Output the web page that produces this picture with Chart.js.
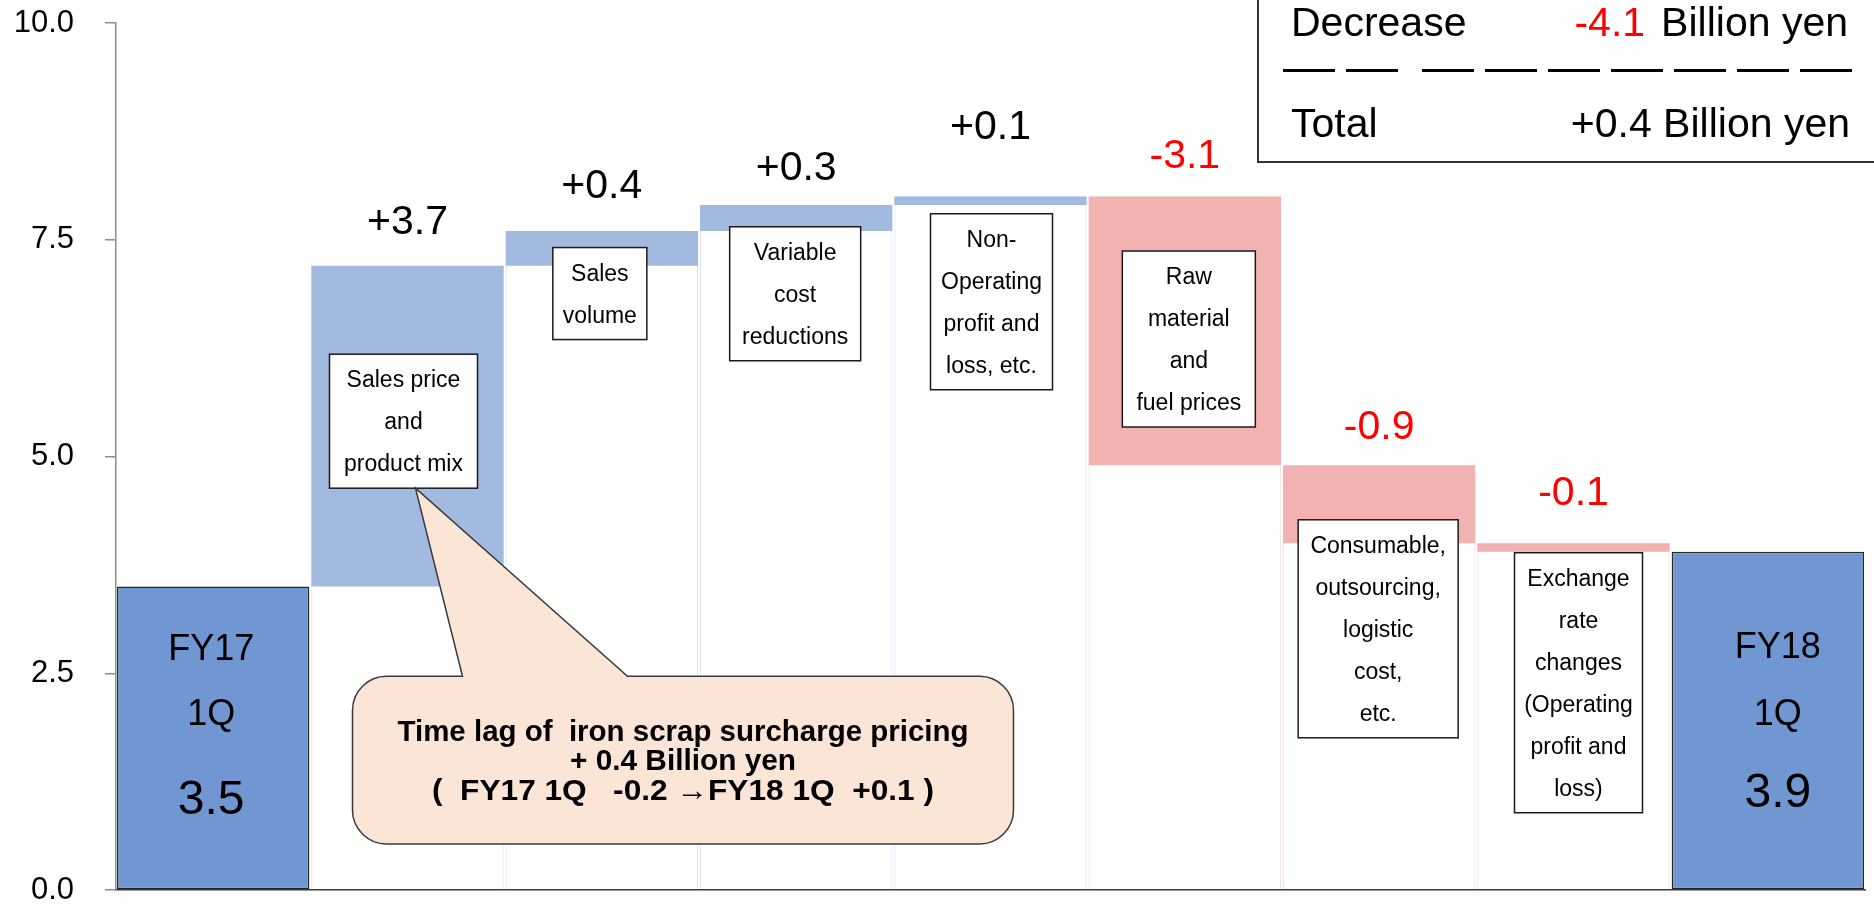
<!DOCTYPE html>
<html>
<head>
<meta charset="utf-8">
<script src="https://cdn.jsdelivr.net/npm/chart.js@4.4.1/dist/chart.umd.min.js"></script>
<style>
  html, body { margin: 0; padding: 0; background: #fff; }
</style>
</head>
<body>
<canvas id="bridge" width="1874" height="904"></canvas>
<script>
// --- data ---
const categories = ['FY17 1Q', 'Sales price and product mix', 'Sales volume', 'Variable cost reductions',
  'Non-Operating profit and loss, etc.', 'Raw material and fuel prices',
  'Consumable, outsourcing, logistic cost, etc.', 'Exchange rate changes (Operating profit and loss)', 'FY18 1Q'];
const startValue = 3.5;
const changes = [3.7, 0.4, 0.3, 0.1, -3.1, -0.9, -0.1];
const endValue = 3.9;
const yTicks = [0, 2.5, 5, 7.5, 10];
const yTickLabels = ['0.0', '2.5', '5.0', '7.5', '10.0'];
const decreaseTotal = -4.1;
const netTotal = 0.4;

// text inside the small boxes
const boxLines = [
  ['Sales price', 'and', 'product mix'],
  ['Sales', 'volume'],
  ['Variable', 'cost', 'reductions'],
  ['Non-', 'Operating', 'profit and', 'loss, etc.'],
  ['Raw', 'material', 'and', 'fuel prices'],
  ['Consumable,', 'outsourcing,', 'logistic', 'cost,', 'etc.'],
  ['Exchange', 'rate', 'changes', '(Operating', 'profit and', 'loss)']
];
const calloutLines = [
  'Time lag of  iron scrap surcharge pricing',
  '+ 0.4 Billion yen',
  '(  FY17 1Q   -0.2 \u2192FY18 1Q  +0.1 )'
];

// --- layout bits for the annotations (not data) ---
const labelLift = [46, 48, 40, 72, 43, 41, 53];
const boxTop = [6.18, 7.41, 7.65, 7.80, 7.37, 4.27, 3.89];   // in axis units
const boxWidth = [148, 94, 131, 122, 133, 160, 128];
const boxShift = [-4, -2, -1, 1, 4, -1, 5];
const calloutWidths = [571, 226, 502];

const FONT = '"Liberation Sans", Arial, sans-serif';
const TOTAL_COL = '#7097d2', UP_COL = '#a2b9e0', DOWN_COL = '#f2b2b2';

// build waterfall stacks
let running = startValue;
const baseVals = [0];
const barVals = [startValue];
changes.forEach(c => {
  baseVals.push(c > 0 ? running : running + c);
  barVals.push(Math.abs(c));
  running += c;
});
baseVals.push(0);
barVals.push(endValue);

const last = categories.length - 1;
const fillCols = barVals.map((v, i) => (i === 0 || i === last) ? TOTAL_COL : (changes[i - 1] > 0 ? UP_COL : DOWN_COL));
const edgeCols = barVals.map((v, i) => (i === 0 || i === last) ? 'rgba(0,0,0,0)' : (changes[i - 1] > 0 ? '#dfe7f4' : '#f8e2e2'));

function fmt(v) {
  return (v > 0 ? '+' : '') + v.toFixed(1);
}

function capText(ctx, txt, x, yMid, size) {
  // centre of the capital letters on yMid
  ctx.fillText(txt, x, yMid + size * 0.358);
}

const annotations = {
  id: 'annotations',
  afterDatasetsDraw(chart) {
    const ctx = chart.ctx;
    const ys = chart.scales.y;
    const bars = chart.getDatasetMeta(1).data;
    ctx.save();
    ctx.textAlign = 'center';
    ctx.textBaseline = 'alphabetic';

    // change labels over the floating bars
    ctx.font = '41px ' + FONT;
    changes.forEach((c, k) => {
      const el = bars[k + 1];
      const top = Math.min(el.y, el.base);
      ctx.fillStyle = c < 0 ? '#ff0000' : '#000000';
      capText(ctx, fmt(c), el.x, top - labelLift[k], 41);
    });

    // white boxes with category text
    boxLines.forEach((lines, k) => {
      const el = bars[k + 1];
      const w = boxWidth[k];
      const h = lines.length * 42 + 8;
      const x0 = el.x + boxShift[k] - w / 2;
      const y0 = ys.getPixelForValue(boxTop[k]);
      ctx.fillStyle = '#ffffff';
      ctx.fillRect(x0, y0, w, h);
      ctx.strokeStyle = '#1a1a1a';
      ctx.lineWidth = 1.5;
      ctx.strokeRect(x0, y0, w, h);
      ctx.fillStyle = '#000000';
      ctx.font = '23px ' + FONT;
      lines.forEach((t, j) => {
        capText(ctx, t, x0 + w / 2, y0 + h / 2 + (j - (lines.length - 1) / 2) * 42, 23);
      });
    });

    // text in the two total bars
    const totals = [
      { el: bars[0], lines: ['FY17', '1Q', startValue.toFixed(1)], at: [2.8, 2.05, 1.07], dx: -2 },
      { el: bars[last], lines: ['FY18', '1Q', endValue.toFixed(1)], at: [2.82, 2.05, 1.16], dx: 10 }
    ];
    ctx.fillStyle = '#000000';
    totals.forEach(t => {
      t.lines.forEach((s, j) => {
        const size = j === 2 ? 48 : 36;
        ctx.font = size + 'px ' + FONT;
        capText(ctx, s, t.el.x + t.dx, ys.getPixelForValue(t.at[j]), size);
      });
    });

    // callout bubble
    const cl = bars[1].x - 55, cr = bars[4].x + 23;
    const ct = ys.getPixelForValue(2.465), cb = ys.getPixelForValue(0.53);
    const r = 34;
    const tipX = bars[1].x + boxShift[0] + 12;
    const tipY = ys.getPixelForValue(boxTop[0]) + boxLines[0].length * 42 + 8;
    const t1 = cl + 110, t2 = cl + 275;
    ctx.beginPath();
    ctx.moveTo(cl + r, ct);
    ctx.lineTo(t1, ct);
    ctx.lineTo(tipX, tipY);
    ctx.lineTo(t2, ct);
    ctx.lineTo(cr - r, ct);
    ctx.arcTo(cr, ct, cr, ct + r, r);
    ctx.lineTo(cr, cb - r);
    ctx.arcTo(cr, cb, cr - r, cb, r);
    ctx.lineTo(cl + r, cb);
    ctx.arcTo(cl, cb, cl, cb - r, r);
    ctx.lineTo(cl, ct + r);
    ctx.arcTo(cl, ct, cl + r, ct, r);
    ctx.closePath();
    ctx.fillStyle = '#fbe5d6';
    ctx.fill();
    ctx.strokeStyle = '#3a3a3a';
    ctx.lineWidth = 1.5;
    ctx.stroke();

    ctx.fillStyle = '#000000';
    ctx.font = 'bold 30px ' + FONT;
    const cx = (cl + cr) / 2;
    const cmid = (ct + cb) / 2;
    calloutLines.forEach((s, j) => {
      const natural = ctx.measureText(s).width;
      ctx.save();
      ctx.translate(cx, cmid - 30 + j * 29.5 + 30 * 0.358);
      ctx.scale(calloutWidths[j] / natural, 1);
      ctx.fillText(s, 0, 0);
      ctx.restore();
    });

    // summary box, top right
    ctx.strokeStyle = '#333333';
    ctx.lineWidth = 2;
    ctx.fillStyle = '#ffffff';
    ctx.fillRect(1258, -5, 640, 167);
    ctx.strokeRect(1258, -5, 640, 167);
    ctx.font = '41px ' + FONT;
    ctx.textAlign = 'left';
    ctx.fillStyle = '#000000';
    ctx.fillText('Decrease', 1291, 36);
    ctx.fillText('Total', 1291, 137);
    ctx.textAlign = 'right';
    ctx.fillText('Billion yen', 1848, 36);
    const bw = ctx.measureText('Billion yen').width;
    ctx.fillStyle = '#ff0000';
    ctx.fillText(decreaseTotal.toFixed(1), 1848 - bw - 16, 36);
    ctx.fillStyle = '#000000';
    ctx.fillText(fmt(netTotal) + ' Billion yen', 1850, 137);
    // dashed separator
    ctx.fillStyle = '#000000';
    [1283, 1346].forEach(x => ctx.fillRect(x, 69, 52, 3));
    for (let x = 1422; x <= 1800; x += 63) ctx.fillRect(x, 69, 52, 3);

    ctx.restore();
  }
};

const ctxBridge = document.getElementById('bridge').getContext('2d');
new Chart(ctxBridge, {
  type: 'bar',
  data: {
    labels: categories,
    datasets: [
      {
        label: 'base',
        data: baseVals,
        backgroundColor: 'rgba(255,255,255,0)',
        borderColor: edgeCols,
        borderWidth: { left: 1, right: 1, top: 0, bottom: 0 },
        borderSkipped: false,
        barPercentage: 0.99,
        categoryPercentage: 1
      },
      {
        label: 'change',
        data: barVals,
        backgroundColor: fillCols,
        borderColor: barVals.map((v, i) => (i === 0 || i === last) ? '#262626' : 'rgba(0,0,0,0)'),
        borderWidth: barVals.map((v, i) => (i === 0 || i === last) ? 1.5 : 0),
        borderSkipped: false,
        barPercentage: 0.99,
        categoryPercentage: 1
      }
    ]
  },
  options: {
    responsive: false,
    animation: false,
    layout: { padding: { top: 23, right: 9, bottom: 14, left: 0 } },
    plugins: {
      legend: { display: false },
      tooltip: { enabled: false }
    },
    scales: {
      x: {
        stacked: true,
        ticks: { display: false },
        grid: { display: true, drawOnChartArea: false, drawTicks: false },
        border: { display: true, color: '#3a3a3a', width: 1.5 },
        afterFit: s => { s.height = 0; }
      },
      y: {
        stacked: true,
        min: 0,
        max: 10,
        afterBuildTicks: s => { s.ticks = yTicks.map(v => ({ value: v })); },
        afterFit: s => {
          s.width = 116;
          s.paddingTop = 0;
          s.paddingBottom = 0;
        },
        ticks: {
          color: '#000000',
          padding: 31,
          font: { family: FONT, size: 31 },
          callback: v => yTickLabels[yTicks.indexOf(v)]
        },
        grid: { drawOnChartArea: false, drawTicks: true, tickLength: 11, color: '#8c8c8c', lineWidth: 1.5 },
        border: { color: '#8c8c8c', width: 1.5 }
      }
    }
  },
  plugins: [annotations]
});
</script>
</body>
</html>
